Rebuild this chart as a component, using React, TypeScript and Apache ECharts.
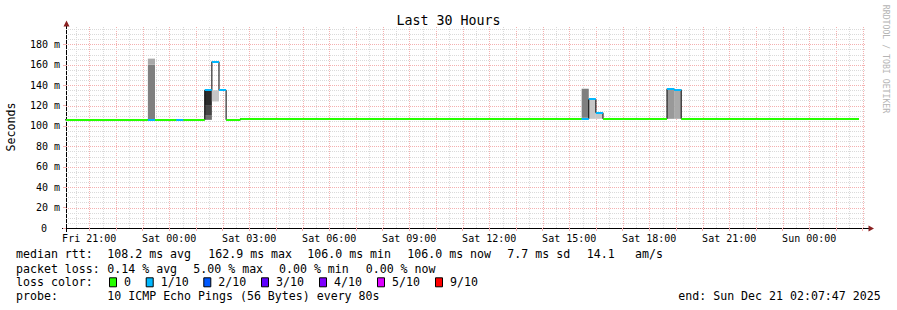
import React, { useEffect, useRef } from "react";
import * as echarts from "echarts";

const FONT = "'DejaVu Sans Mono', 'Liberation Mono', monospace";

// x axis: minutes since Fri 00:00
const startMinute = 20 * 60 + 7 + 47 / 60; // Fri 20:07:47
const endMinute = startMinute + 30 * 60; // Sun 02:07:47
const binMinutes = 16;

const xLabelMinutes = [1260, 1440, 1620, 1800, 1980, 2160, 2340, 2520, 2700, 2880];
const xLabelTexts = [
  "Fri 21:00", "Sat 00:00", "Sat 03:00", "Sat 06:00", "Sat 09:00",
  "Sat 12:00", "Sat 15:00", "Sat 18:00", "Sat 21:00", "Sun 00:00",
];

const yMax = 197;
const yLabelValues = [0, 20, 40, 60, 80, 100, 120, 140, 160, 180];
const yLabelTexts = ["0", "20 m", "40 m", "60 m", "80 m", "100 m", "120 m", "140 m", "160 m", "180 m"];

// median rtt (ms) as step segments: start minute, value, loss index
const medianStart = [1200, 1392, 1408, 1456, 1472, 1520, 1536, 1552, 1568, 1600, 2368, 2384, 2400, 2416, 2560, 2576, 2592];
const medianEndMinute = 2992;
const medianValue = [106, 106, 106, 106, 106, 135, 163, 135, 106, 107, 107, 126, 113, 107, 136.5, 135.5, 107];
const medianLoss = [0, 1, 0, 1, 0, 1, 1, 1, 0, 0, 1, 1, 1, 0, 1, 1, 0];

// smoke bands: bin start minute, low, high, density level
const smokeStart = [1392, 1392, 1520, 1520, 1520, 1536, 2368, 2384, 2400, 2560, 2576];
const smokeLow = [106, 160, 106, 110.7, 120.5, 124, 108, 107, 107, 107, 107];
const smokeHigh = [160, 166, 110.7, 120.5, 135, 135, 136.5, 125.5, 112.5, 136, 135];
const smokeLevel = [3, 1, 4, 5, 6, 0, 3, 0, 0, 2, 1];
const smokeGreys = ["#c6c6c6", "#a9a9a9", "#999999", "#7f7f7f", "#6e6e6e", "#464646", "#2b2b2b"];

// loss colours legend
const lossLabels = ["0", "1/10", "2/10", "3/10", "4/10", "5/10", "9/10"];
const lossColors = ["#26ff00", "#00b8ff", "#0059ff", "#5e00ff", "#7e00ff", "#dd00ff", "#ff0000"];

// statistics
const rttNames = ["avg", "max", "min", "now", "sd"];
const rttValues = [108.2, 162.9, 106.0, 106.0, 7.7];
const amPerSecond = 14.1;
const lossNames = ["avg", "max", "min", "now"];
const lossValues = [0.14, 5.0, 0.0, 0.0];
const probeText = "10 ICMP Echo Pings (56 Bytes) every 80s";
const endText = "end: Sun Dec 21 02:07:47 2025";

// layout
const rttX = [107.3, 208.3, 307.3, 407.3, 507.3];
const ampsX = [586.7, 635];
const lossX = [107.3, 193.3, 279, 365.7];
const swatchX = [109, 145.7, 203.3, 261, 319, 377, 435];
const rowY = [254.3, 268.5, 282.3, 296.3];

const MAJOR = "#f4b0b0";
const MINOR = "#dadada";

function txt(x: number, y: number, text: string, extra: any = {}) {
  return {
    type: "text",
    x,
    y,
    silent: true,
    style: {
      text,
      fontFamily: FONT,
      fontSize: 11.6,
      fill: "#000",
      align: "left",
      textAlign: "left",
      verticalAlign: "middle",
      textVerticalAlign: "middle",
      ...extra,
    },
  };
}

export default function App() {
  const ref = useRef<HTMLDivElement>(null);

  useEffect(() => {
    const chart = echarts.init(ref.current!, undefined, { renderer: "svg" });

    const gridItems: number[][] = [];
    for (let m = 1230; m < endMinute; m += 60) if (m > startMinute) gridItems.push([m, 0, 0]);
    for (let m = 1260; m < endMinute; m += 60) gridItems.push([m, 0, 1]);
    for (let v = 5; v < yMax; v += 5) if (v % 20 !== 0) gridItems.push([v, 1, 0]);
    for (let v = 20; v < yMax; v += 20) gridItems.push([v, 1, 1]);

    const hourTicks: number[] = [];
    for (let m = 1260; m < endMinute; m += 60) hourTicks.push(m);

    const n = medianStart.length;
    const blackLine = medianStart.map((s, i) => [s, medianValue[i]]);
    blackLine.push([medianEndMinute, medianValue[n - 1]]);
    const segData = medianStart.map((s, i) => [
      s,
      i < n - 1 ? medianStart[i + 1] : medianEndMinute,
      medianValue[i],
      medianLoss[i],
    ]);
    const smokeData = smokeStart.map((s, i) => [s, smokeLow[i], smokeHigh[i], smokeLevel[i]]);

    const graphic: any[] = [];
    graphic.push(
      txt(448.5, 20, "Last 30 Hours", { fontSize: 13.3, align: "center", textAlign: "center" })
    );
    graphic.push({
      type: "text",
      x: 11,
      y: 127,
      rotation: Math.PI / 2,
      silent: true,
      style: {
        text: "Seconds", fontFamily: FONT, fontSize: 11.6, fill: "#000",
        align: "center", textAlign: "center", verticalAlign: "middle", textVerticalAlign: "middle",
      },
    });
    graphic.push({
      type: "text",
      x: 886,
      y: 59,
      rotation: -Math.PI / 2,
      silent: true,
      style: {
        text: "RRDTOOL / TOBI OETIKER", fontFamily: FONT, fontSize: 8.2, fill: "#b4b4b4",
        align: "center", textAlign: "center", verticalAlign: "middle", textVerticalAlign: "middle",
      },
    });
    // axis extensions and arrows
    graphic.push({ type: "line", silent: true, shape: { x1: 62, y1: 228.5, x2: 869, y2: 228.5 }, style: { stroke: "#000", lineWidth: 1 } });
    graphic.push({ type: "line", silent: true, shape: { x1: 66.5, y1: 232, x2: 66.5, y2: 25 }, style: { stroke: "#000", lineWidth: 1 } });
    graphic.push({ type: "polygon", silent: true, shape: { points: [[63.5, 26.5], [69.5, 26.5], [66.5, 20.5]] }, style: { fill: "#8a2020" } });
    graphic.push({ type: "polygon", silent: true, shape: { points: [[868.5, 225.5], [868.5, 231.5], [874, 228.5]] }, style: { fill: "#8a2020" } });

    // legend row 1
    graphic.push(txt(16, rowY[0], "median rtt:"));
    rttValues.forEach((v, i) => graphic.push(txt(rttX[i], rowY[0], `${v.toFixed(1)} ms ${rttNames[i]}`)));
    graphic.push(txt(ampsX[0], rowY[0], amPerSecond.toFixed(1)));
    graphic.push(txt(ampsX[1], rowY[0], "am/s"));
    // row 2
    graphic.push(txt(16, rowY[1], "packet loss:"));
    lossValues.forEach((v, i) => graphic.push(txt(lossX[i], rowY[1], `${v.toFixed(2)} % ${lossNames[i]}`)));
    // row 3
    graphic.push(txt(16, rowY[2], "loss color:"));
    lossLabels.forEach((l, i) => {
      graphic.push({
        type: "rect",
        silent: true,
        shape: { x: swatchX[i] + 0.5, y: rowY[2] - 4.5, width: 7, height: 9 },
        style: { fill: lossColors[i], stroke: "#000", lineWidth: 1 },
      });
      graphic.push(txt(swatchX[i] + 15, rowY[2], l));
    });
    // row 4
    graphic.push(txt(16, rowY[3], "probe:"));
    graphic.push(txt(107.3, rowY[3], probeText));
    graphic.push(txt(880.7, rowY[3], endText, { align: "right", textAlign: "right" }));

    const option: any = {
      animation: false,
      backgroundColor: "#ffffff",
      grid: { left: 66, top: 27, width: 800, height: 201, containLabel: false, outerBoundsMode: "none" },
      xAxis: {
        type: "value",
        min: startMinute,
        max: endMinute,
        axisLine: { show: true, lineStyle: { color: "#000", width: 1 } },
        axisTick: { show: true, customValues: hourTicks, length: 3, lineStyle: { color: MAJOR } },
        axisLabel: {
          customValues: xLabelMinutes,
          formatter: (v: number) => xLabelTexts[xLabelMinutes.indexOf(v)] ?? "",
          fontFamily: FONT,
          fontSize: 10,
          color: "#000",
          margin: 5,
        },
        splitLine: { show: false },
      },
      yAxis: {
        type: "value",
        min: 0,
        max: yMax,
        axisLine: { show: true, lineStyle: { color: "#000", width: 1 } },
        axisTick: { show: true, customValues: yLabelValues, length: 3, lineStyle: { color: MAJOR } },
        axisLabel: {
          customValues: yLabelValues,
          formatter: (v: number) => {
            const t = yLabelTexts[yLabelValues.indexOf(v)] ?? "";
            return v === 0 ? `{pad|${t}}` : t;
          },
          rich: { pad: { padding: [0, 13, 0, 0], fontFamily: FONT, fontSize: 10, color: "#000" } },
          fontFamily: FONT,
          fontSize: 10,
          color: "#000",
          margin: 6,
        },
        splitLine: { show: false },
      },
      graphic,
      series: [
        {
          type: "custom",
          z: 1,
          silent: true,
          data: gridItems,
          renderItem: (params: any, api: any) => {
            const v = api.value(0);
            const dir = api.value(1);
            const major = api.value(2);
            const cs = params.coordSys;
            const style = { stroke: major ? MAJOR : MINOR, lineWidth: 1, lineDash: [1, 1] };
            if (dir === 0) {
              const x = Math.round(api.coord([v, 0])[0]) + 0.5;
              return { type: "line", shape: { x1: x, y1: cs.y, x2: x, y2: cs.y + cs.height }, style };
            }
            const y = Math.round(api.coord([startMinute, v])[1]) + 0.5;
            return { type: "line", shape: { x1: cs.x, y1: y, x2: cs.x + cs.width, y2: y }, style };
          },
        },
        {
          type: "custom",
          z: 2,
          silent: true,
          clip: true,
          data: smokeData,
          renderItem: (params: any, api: any) => {
            const s = api.value(0);
            const p0 = api.coord([s, api.value(2)]);
            const p1 = api.coord([s + binMinutes, api.value(1)]);
            return {
              type: "rect",
              shape: { x: p0[0], y: p0[1], width: p1[0] - p0[0], height: p1[1] - p0[1] },
              style: { fill: smokeGreys[api.value(3)] },
            };
          },
        },
        {
          type: "line",
          z: 3,
          silent: true,
          step: "end",
          symbol: "none",
          showSymbol: false,
          clip: true,
          data: blackLine,
          lineStyle: { color: "#000", width: 1 },
        },
        {
          type: "custom",
          z: 4,
          silent: true,
          clip: true,
          data: segData,
          renderItem: (params: any, api: any) => {
            const a = api.coord([api.value(0), api.value(2)]);
            const b = api.coord([api.value(1), api.value(2)]);
            const y = Math.round(a[1]);
            return {
              type: "line",
              shape: { x1: a[0], y1: y, x2: b[0], y2: y },
              style: { stroke: lossColors[api.value(3)], lineWidth: 2 },
            };
          },
        },
      ],
    };

    chart.setOption(option);
    return () => chart.dispose();
  }, []);

  return (
    <div
      ref={ref}
      style={{ position: "fixed", left: 0, top: 0, width: 897, height: 310, background: "#fff" }}
    />
  );
}
